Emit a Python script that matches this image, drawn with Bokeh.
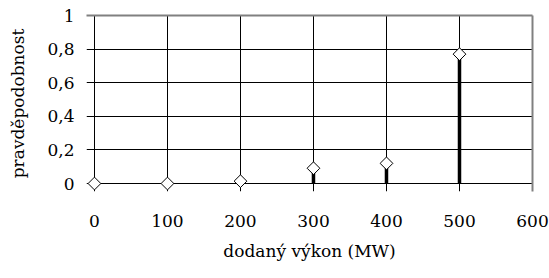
import math
from bokeh.plotting import figure
from bokeh.models import Range1d, FixedTicker, CustomJSTickFormatter, LinearAxis
from bokeh.embed import file_html
from bokeh.resources import INLINE

power_mw = [0, 100, 200, 300, 400, 500]
probability = [0.0, 0.0, 0.014, 0.091, 0.12, 0.77]
x_ticks = [0, 100, 200, 300, 400, 500, 600]
y_ticks = [0, 0.2, 0.4, 0.6, 0.8, 1]

FONT = "DejaVu Serif"

# frame extends ~8px left of x=0 and below y=0 so that gridlines form outward ticks
p = figure(width=549, height=278, output_backend="svg", toolbar_location=None,
           x_range=Range1d(-10.9, 600), y_range=Range1d(-0.0475, 1),
           min_border_left=86, min_border_right=17, min_border_top=15, min_border_bottom=87)

p.background_fill_color = "white"
p.border_fill_color = "white"
p.outline_line_color = None

p.xgrid.ticker = FixedTicker(ticks=x_ticks)
p.ygrid.ticker = FixedTicker(ticks=y_ticks)
p.xgrid.grid_line_color = "black"
p.ygrid.grid_line_color = "black"
p.xgrid.grid_line_width = 1
p.ygrid.grid_line_width = 1

p.xaxis.ticker = FixedTicker(ticks=x_ticks)
p.yaxis.ticker = FixedTicker(ticks=y_ticks)
p.yaxis.formatter = CustomJSTickFormatter(code="""
var s = (Math.round(tick*10)/10).toString();
return s.replace('.', ',');
""")

for ax in (p.xaxis[0], p.yaxis[0]):
    ax.axis_line_color = None
    ax.major_tick_line_color = None
    ax.major_tick_in = 0
    ax.major_tick_out = 0
    ax.minor_tick_line_color = None
    ax.major_label_text_font = FONT
    ax.major_label_text_font_size = "17px"
    ax.major_label_text_color = "black"
    ax.axis_label_text_font = FONT
    ax.axis_label_text_font_size = "17px"
    ax.axis_label_text_font_style = "normal"
    ax.axis_label_text_color = "black"

p.xaxis.major_label_standoff = 23
p.yaxis.major_label_standoff = 12
p.xaxis.axis_label = "dodaný výkon (MW)"
p.yaxis.axis_label = "pravděpodobnost"
p.xaxis.axis_label_standoff = 11
p.yaxis.axis_label_standoff = 16

# gray frame borders at top and right
for loc in ("above", "right"):
    border = LinearAxis(ticker=FixedTicker(ticks=[]), axis_line_color="#808080",
                        axis_line_width=2, major_tick_line_color=None,
                        minor_tick_line_color=None)
    p.add_layout(border, loc)
p.min_border_top = 15
p.min_border_right = 17

p.segment(x0=power_mw, y0=[0] * len(power_mw), x1=power_mw, y1=probability,
          line_color="black", line_width=3.5)
p.scatter(x=power_mw, y=probability, marker="square", size=9, angle=math.pi / 4,
          fill_color="white", line_color="black", line_width=1)

open("out.html", "w").write(file_html(p, INLINE))
